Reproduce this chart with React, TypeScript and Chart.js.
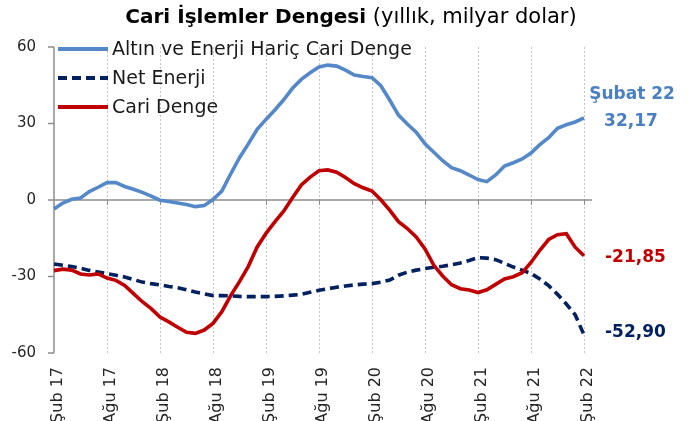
import React, { useEffect, useRef } from 'react';
import { Chart, registerables } from 'chart.js';
Chart.register(...registerables);

const monthNames = ['Oca', 'Şub', 'Mar', 'Nis', 'May', 'Haz', 'Tem', 'Ağu', 'Eyl', 'Eki', 'Kas', 'Ara'];
const months: string[] = [];
for (let y = 17; y <= 22; y++) {
  for (let m = 0; m < 12; m++) {
    if (y === 17 && m < 1) continue;
    if (y === 22 && m > 1) break;
    months.push(`${monthNames[m]} ${y}`);
  }
}

const altinEnerjiHaric = [
  -3.5, -1.2, 0.3, 0.8, 3.3, 5.0, 6.8, 6.8, 5.3, 4.2, 3.0, 1.5,
  -0.1, -0.6, -1.2, -1.8, -2.6, -2.2, 0.2, 3.5, 10.2, 16.6, 22.0, 27.7,
  31.6, 35.3, 39.3, 43.8, 47.3, 49.9, 52.2, 52.9, 52.5, 50.9, 49.0, 48.4,
  48.0, 44.8, 39.2, 33.3, 29.8, 26.6, 22.0, 18.7, 15.4, 12.7, 11.5, 9.8,
  8.0, 7.2, 9.8, 13.3, 14.6, 16.1, 18.4, 21.7, 24.4, 28.1, 29.5, 30.6,
  32.17,
];
const netEnerji = [
  -25.1, -25.6, -26.1, -26.8, -27.6, -28.2, -28.9, -29.5, -30.2, -31.2, -32.2, -32.8,
  -33.3, -33.9, -34.4, -35.2, -36.1, -36.8, -37.5, -37.5, -37.6, -37.8, -37.9, -37.9,
  -37.9, -37.8, -37.6, -37.3, -37.0, -36.2, -35.4, -34.8, -34.2, -33.7, -33.3, -33.0,
  -32.8, -32.2, -31.4, -29.5, -28.3, -27.5, -26.9, -26.4, -26.0, -25.4, -24.7, -23.7,
  -22.6, -22.8, -23.4, -24.8, -26.3, -27.5, -28.8, -31.0, -33.6, -37.0, -40.8, -45.0,
  -52.9,
];
const cariDenge = [
  -27.7, -27.1, -27.5, -29.0, -29.4, -29.0, -30.6, -31.5, -33.5, -36.7, -39.9, -42.6,
  -45.9, -47.8, -49.9, -51.9, -52.3, -51.0, -48.4, -43.8, -37.5, -32.0, -26.0, -18.4,
  -13.1, -8.6, -4.4, 0.9, 5.9, 9.0, 11.5, 11.8, 10.9, 8.8, 6.4, 4.8,
  3.5, 0.1, -4.0, -8.5, -11.2, -14.5, -19.2, -25.6, -29.8, -33.2, -34.8, -35.3,
  -36.3, -35.2, -33.1, -31.0, -30.1, -28.5, -24.5, -19.7, -15.5, -13.6, -13.2, -18.5,
  -21.85,
];
const yTicks = [-60, -30, 0, 30, 60];
const titleBold = 'Cari İşlemler Dengesi';
const titleRest = ' (yıllık, milyar dolar)';
const legendLabels = ['Altın ve Enerji Hariç Cari Denge', 'Net Enerji', 'Cari Denge'];
const endTitle = 'Şubat 22';
const fmt = (v: number) => v.toFixed(2).replace('.', ',');

const BLUE = '#5588C8';
const NAVY = '#002060';
const RED = '#C00000';
const AXIS = '#8c8c8c';
const FONT = '"DejaVu Sans", sans-serif';
const H = 430;

const overlay = {
  id: 'overlay',
  beforeDatasetsDraw(chart: any) {
    const { ctx, chartArea, scales } = chart;
    const y0 = scales.y.getPixelForValue(0);
    const left = chartArea.left;
    ctx.save();
    ctx.strokeStyle = AXIS;
    ctx.lineWidth = 1.5;
    ctx.beginPath();
    ctx.moveTo(left, chartArea.top);
    ctx.lineTo(left, chartArea.bottom);
    ctx.stroke();
    yTicks.forEach((v) => {
      const y = scales.y.getPixelForValue(v);
      ctx.beginPath();
      ctx.moveTo(left - 6, y);
      ctx.lineTo(left, y);
      ctx.stroke();
    });
    ctx.beginPath();
    ctx.moveTo(left, y0);
    ctx.lineTo(chartArea.right + 8, y0);
    ctx.stroke();
    ctx.lineWidth = 1;
    for (let i = 6; i < months.length; i += 6) {
      const x = Math.round(scales.x.getPixelForValue(i)) + 0.5;
      ctx.beginPath();
      ctx.moveTo(x, y0);
      ctx.lineTo(x, y0 + 5);
      ctx.stroke();
    }
    ctx.fillStyle = '#262626';
    ctx.font = `15px ${FONT}`;
    ctx.textAlign = 'right';
    ctx.textBaseline = 'middle';
    yTicks.forEach((v) => {
      ctx.fillText(String(v), 36, scales.y.getPixelForValue(v));
    });
    ctx.restore();
  },
  afterDraw(chart: any) {
    const { ctx, chartArea, scales } = chart;
    ctx.save();
    ctx.textBaseline = 'middle';
    ctx.fillStyle = '#000';
    ctx.font = `bold 20px ${FONT}`;
    const wb = ctx.measureText(titleBold).width;
    ctx.font = `21px ${FONT}`;
    const wr = ctx.measureText(titleRest).width;
    const tx = 351 - (wb + wr) / 2;
    ctx.textAlign = 'left';
    ctx.font = `bold 20px ${FONT}`;
    ctx.fillText(titleBold, tx, 18);
    ctx.font = `21px ${FONT}`;
    ctx.fillText(titleRest, tx + wb, 18);

    const colors = [BLUE, NAVY, RED];
    const rows = [49, 78, 107];
    ctx.font = `19px ${FONT}`;
    ctx.fillStyle = '#1a1a1a';
    legendLabels.forEach((lab, k) => {
      ctx.strokeStyle = colors[k];
      ctx.lineWidth = 4;
      ctx.setLineDash(k === 1 ? [9, 5] : []);
      ctx.beginPath();
      ctx.moveTo(chartArea.left + 4, rows[k]);
      ctx.lineTo(chartArea.left + 54, rows[k]);
      ctx.stroke();
      ctx.setLineDash([]);
      ctx.fillText(lab, chartArea.left + 58, rows[k] + 1);
    });

    const last = months.length - 1;
    const xl = scales.x.getPixelForValue(last);
    const vb = altinEnerjiHaric[last];
    const vn = netEnerji[last];
    const vr = cariDenge[last];
    ctx.font = `bold 17px ${FONT}`;
    ctx.textAlign = 'center';
    ctx.fillStyle = '#4A7FC3';
    const yb = scales.y.getPixelForValue(vb);
    ctx.fillText(endTitle, xl + 48, yb - 23);
    ctx.fillText(fmt(vb), xl + 47, yb + 4);
    ctx.textAlign = 'left';
    ctx.fillStyle = RED;
    ctx.fillText(fmt(vr), xl + 21, scales.y.getPixelForValue(vr) + 2);
    ctx.fillStyle = NAVY;
    ctx.fillText(fmt(vn), xl + 21, scales.y.getPixelForValue(vn) - 2);
    ctx.restore();
  },
};

export default function App() {
  const ref = useRef<HTMLCanvasElement | null>(null);
  useEffect(() => {
    if (!ref.current) return;
    const chart = new Chart(ref.current, {
      type: 'line',
      data: {
        labels: months,
        datasets: [
          { label: legendLabels[0], data: altinEnerjiHaric, borderColor: BLUE, borderWidth: 3.6, pointRadius: 0, tension: 0, order: 3 },
          { label: legendLabels[1], data: netEnerji, borderColor: NAVY, borderWidth: 3.6, borderDash: [9, 5], pointRadius: 0, tension: 0, order: 2 },
          { label: legendLabels[2], data: cariDenge, borderColor: RED, borderWidth: 3.6, pointRadius: 0, tension: 0, order: 1 },
        ],
      },
      options: {
        animation: false,
        responsive: false,
        devicePixelRatio: 1,
        layout: { padding: { top: 47, right: 112, left: 54, bottom: 0 } },
        plugins: { legend: { display: false }, title: { display: false }, tooltip: { enabled: false } },
        scales: {
          x: {
            type: 'category',
            afterFit: (s: any) => { s.height = H - 353; s.paddingLeft = 0; s.paddingRight = 0; },
            grid: {
              color: (c: any) => (c.index % 6 === 0 && c.index > 0 ? '#c4c4c4' : 'transparent'),
              lineWidth: 1,
              drawTicks: false,
            },
            border: { display: false, dash: [2, 2] },
            ticks: {
              autoSkip: false,
              maxRotation: 90,
              minRotation: 90,
              padding: 14,
              labelOffset: 4,
              color: '#262626',
              font: { family: FONT, size: 16 },
              callback: (_v: any, i: number) => (i % 6 === 0 ? months[i] : ''),
            },
          },
          y: {
            display: false,
            min: -60,
            max: 60,
            afterFit: (s: any) => { s.paddingTop = 0; s.paddingBottom = 0; },
          },
        },
      },
      plugins: [overlay],
    });
    return () => chart.destroy();
  }, []);
  return (
    <canvas
      ref={ref}
      width={696}
      height={H}
      style={{ position: 'fixed', left: 0, top: 0, width: 696, height: H }}
    />
  );
}
